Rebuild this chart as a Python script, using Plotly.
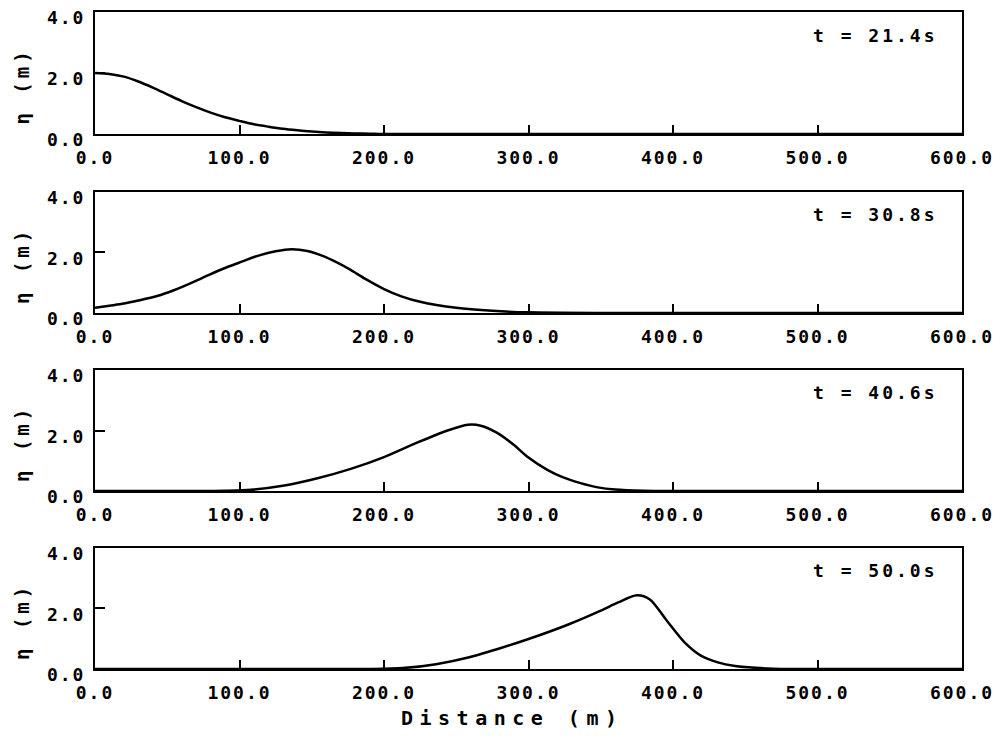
import plotly.graph_objects as go

# ---------------- data ----------------
x_ticks = [0, 100, 200, 300, 400, 500, 600]
x_tick_labels = ["0.0", "100.0", "200.0", "300.0", "400.0", "500.0", "600.0"]
y_ticks = [0, 2, 4]
y_tick_labels = ["0.0", "2.0", "4.0"]
times = ["t = 21.4s", "t = 30.8s", "t = 40.6s", "t = 50.0s"]

x1 = [0, 10, 20, 30, 40, 50, 60, 70, 80, 90, 100, 110, 120, 130, 140, 150, 160, 170, 180, 190, 200, 300, 400, 500, 600]
eta1 = [2.0, 1.97, 1.88, 1.72, 1.52, 1.30, 1.08, 0.88, 0.70, 0.55, 0.43, 0.32, 0.24, 0.17, 0.12, 0.08, 0.05, 0.03, 0.02, 0.01, 0.0, 0.0, 0.0, 0.0, 0.0]

x2 = [0, 10, 20, 30, 43, 55, 66, 78, 89, 100, 112, 125, 136, 147, 158, 167, 176, 188, 200, 212, 225, 250, 275, 300, 350, 400, 500, 600]
eta2 = [0.17, 0.24, 0.31, 0.41, 0.56, 0.76, 0.98, 1.24, 1.47, 1.67, 1.88, 2.04, 2.11, 2.05, 1.88, 1.68, 1.45, 1.10, 0.79, 0.55, 0.37, 0.17, 0.07, 0.02, 0.0, 0.0, 0.0, 0.0]

x3 = [0, 50, 90, 108, 131, 154, 177, 200, 222, 244, 258, 267, 278, 290, 299, 313, 324, 336, 348, 360, 380, 400, 500, 600]
eta3 = [0.0, 0.0, 0.01, 0.04, 0.18, 0.42, 0.73, 1.12, 1.58, 2.00, 2.19, 2.16, 1.93, 1.52, 1.14, 0.70, 0.45, 0.26, 0.12, 0.05, 0.01, 0.0, 0.0, 0.0]

x4 = [0, 100, 150, 190, 213, 236, 259, 282, 300, 328, 350, 362, 375, 384, 396, 408, 419, 431, 443, 460, 480, 500, 600]
eta4 = [0.0, 0.0, 0.0, 0.0, 0.03, 0.16, 0.39, 0.71, 0.99, 1.48, 1.93, 2.20, 2.44, 2.30, 1.58, 0.88, 0.45, 0.22, 0.10, 0.03, 0.0, 0.0, 0.0]

xs = [x1, x2, x3, x4]
etas = [eta1, eta2, eta3, eta4]

# ---------------- style ----------------
FONT = "DejaVu Sans Mono"


def sp(s, px=2):
    return f'<b><span style="letter-spacing:{px}px">{s}</span></b>'


domains = [(0.8143, 1.0), (0.5419, 0.726), (0.2709, 0.4551), (0.0, 0.1842)]

fig = go.Figure()
layout = dict(
    width=992, height=730,
    margin=dict(l=87, r=38, t=4, b=69, autoexpand=False),
    paper_bgcolor="white", plot_bgcolor="white",
    showlegend=False,
    font=dict(family=FONT, size=18, color="black"),
)
annotations = []

for i in range(4):
    n = "" if i == 0 else str(i + 1)
    fig.add_trace(go.Scatter(
        x=xs[i], y=etas[i], mode="lines",
        line=dict(color="black", width=2.5, shape="spline", smoothing=0.8),
        xaxis="x" + n, yaxis="y" + n, hoverinfo="skip",
    ))
    layout["xaxis" + n] = dict(
        domain=[0, 1], anchor="y" + n, range=[0, 600], automargin=False,
        tickmode="array", tickvals=x_ticks, ticktext=[sp(t) for t in x_tick_labels],
        ticks="inside", ticklen=9, tickwidth=2, tickcolor="black",
        showline=True, linewidth=2, linecolor="black", mirror=True,
        showgrid=False, zeroline=False, ticklabelstandoff=6,
        ticklabeloverflow="allow",
        tickfont=dict(family=FONT, size=18, color="black"),
    )
    layout["yaxis" + n] = dict(
        domain=list(domains[i]), anchor="x" + n, range=[0, 4], automargin=False,
        tickmode="array", tickvals=y_ticks, ticktext=[sp(t) for t in y_tick_labels],
        ticks="inside", ticklen=10, tickwidth=2, tickcolor="black",
        showline=True, linewidth=2, linecolor="black", mirror=True,
        showgrid=False, zeroline=False, ticklabelstandoff=4, ticklabelshift=6,
        ticklabeloverflow="allow",
        tickfont=dict(family=FONT, size=18, color="black"),
    )
    annotations.append(dict(
        text=sp(times[i], 3), xref=("x" + n + " domain"), yref=("y" + n + " domain"),
        x=0.975, y=0.81, xanchor="right", yanchor="middle", showarrow=False,
        font=dict(family=FONT, size=18, color="black"),
    ))
    annotations.append(dict(
        text=sp("η (m)", 4), xref="paper", yref=("y" + n + " domain"),
        x=-0.084, y=0.39, xanchor="center", yanchor="middle", showarrow=False,
        textangle=-90,
        font=dict(family=FONT, size=19, color="black"),
    ))

annotations.append(dict(
    text=sp("Distance (m)", 6.5), xref="paper", yref="paper",
    x=0.481, y=0, yshift=-49, xanchor="center", yanchor="middle", showarrow=False,
    font=dict(family=FONT, size=20, color="black"),
))
layout["annotations"] = annotations
fig.update_layout(**layout)
fig.write_html("out.html")
